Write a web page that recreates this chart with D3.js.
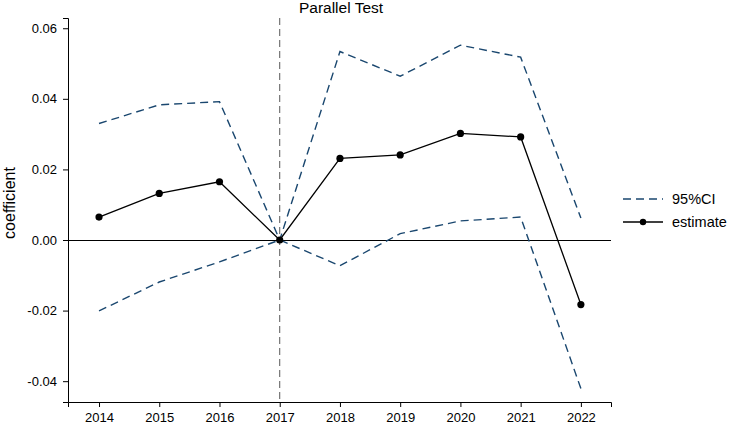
<!DOCTYPE html>
<html>
<head>
<meta charset="utf-8">
<title>Parallel Test</title>
<script src="https://cdn.jsdelivr.net/npm/d3@7"></script>
<style>
body { margin: 0; background: #fff; }
text { font-family: "Liberation Sans", Arial, sans-serif; }
</style>
</head>
<body>
<script>

var years = [2014, 2015, 2016, 2017, 2018, 2019, 2020, 2021, 2022];
var estimate = [0.0065, 0.0132, 0.0165, 0, 0.0231, 0.0241, 0.0302, 0.0292, -0.0183];
var upper = [0.0330, 0.0383, 0.0392, 0, 0.0534, 0.0464, 0.0552, 0.0518, 0.0062];
var lower = [-0.0201, -0.0119, -0.0062, 0, -0.0073, 0.0018, 0.0054, 0.0065, -0.0421];
var yTicks = [-0.04, -0.02, 0, 0.02, 0.04, 0.06];

var W = 733, H = 424;
var mLeft = 68, mRight = 611, mTop = 18, mBottom = 402;

var svg = d3.select("body").append("svg")
	.attr("width", W)
	.attr("height", H);

var x = d3.scaleLinear().domain([2013.485, 2022.5]).range([mLeft, mRight]);
var y = d3.scaleLinear().domain([-0.0459, 0.0629]).range([mBottom, mTop]);

var fmt = d3.format(".2f");
// axes
var xAxis = d3.axisBottom(x).tickValues(years).tickFormat(d3.format("d")).tickSizeOuter(0).tickSize(5).tickPadding(6);
var yAxis = d3.axisLeft(y).tickValues(yTicks)
	.tickFormat(function(d){ return fmt(d).replace("\u2212", "-"); })
	.tickSizeOuter(0).tickSize(5).tickPadding(6);

var gx = svg.append("g").attr("transform", "translate(0," + mBottom + ")").call(xAxis);
var gy = svg.append("g").attr("transform", "translate(" + mLeft + ",0)").call(yAxis);
[gx, gy].forEach(function(g){
	g.select(".domain").attr("stroke", "#000").attr("stroke-width", 1);
	g.selectAll(".tick line").attr("stroke", "#000");
	g.selectAll("text").attr("font-size", 13).attr("fill", "#000").style("font-family", "Liberation Sans, Arial, sans-serif");
});

// zero line
svg.append("line")
	.attr("x1", mLeft).attr("x2", mRight)
	.attr("y1", Math.round(y(0)) + 0.5).attr("y2", Math.round(y(0)) + 0.5)
	.attr("stroke", "#000").attr("stroke-width", 1);

// vertical line at 2017
svg.append("line")
	.attr("x1", x(2017)).attr("x2", x(2017))
	.attr("y1", mTop).attr("y2", mBottom)
	.attr("stroke", "#444").attr("stroke-width", 0.9)
	.attr("stroke-dasharray", "7,4");

var line = d3.line()
	.x(function(d, i){ return x(years[i]); })
	.y(function(d){ return y(d); });

var ciColor = "#1a476f";
[upper, lower].forEach(function(s){
	svg.append("path")
		.attr("d", line(s))
		.attr("fill", "none")
		.attr("stroke", ciColor)
		.attr("stroke-width", 1.4)
		.attr("stroke-dasharray", "8,5");
});

svg.append("path")
	.attr("d", line(estimate))
	.attr("fill", "none")
	.attr("stroke", "#000")
	.attr("stroke-width", 1.3);

svg.selectAll("circle.pt")
	.data(estimate)
	.enter()
	.append("circle")
	.attr("class", "pt")
	.attr("cx", function(d, i){ return x(years[i]); })
	.attr("cy", function(d){ return y(d); })
	.attr("r", 3.6)
	.attr("fill", "#000");

// title
svg.append("text")
	.attr("x", 341)
	.attr("y", 13)
	.attr("text-anchor", "middle")
	.attr("font-size", 15.5)
	.text("Parallel Test");

// y label
svg.append("text")
	.attr("transform", "translate(15,203) rotate(-90)")
	.attr("text-anchor", "middle")
	.attr("font-size", 16)
	.text("coefficient");

// legend
var lg = svg.append("g");
lg.append("line")
	.attr("x1", 623).attr("x2", 663).attr("y1", 199).attr("y2", 199)
	.attr("stroke", ciColor).attr("stroke-width", 1.4).attr("stroke-dasharray", "8,5");
lg.append("text").attr("x", 672).attr("y", 204).attr("font-size", 14.5).text("95%CI");
lg.append("line")
	.attr("x1", 623).attr("x2", 663).attr("y1", 222).attr("y2", 222)
	.attr("stroke", "#000").attr("stroke-width", 1.3);
lg.append("circle").attr("cx", 643).attr("cy", 222).attr("r", 3.2).attr("fill", "#000");
lg.append("text").attr("x", 672).attr("y", 227).attr("font-size", 14.5).text("estimate");

</script>
</body>
</html>
